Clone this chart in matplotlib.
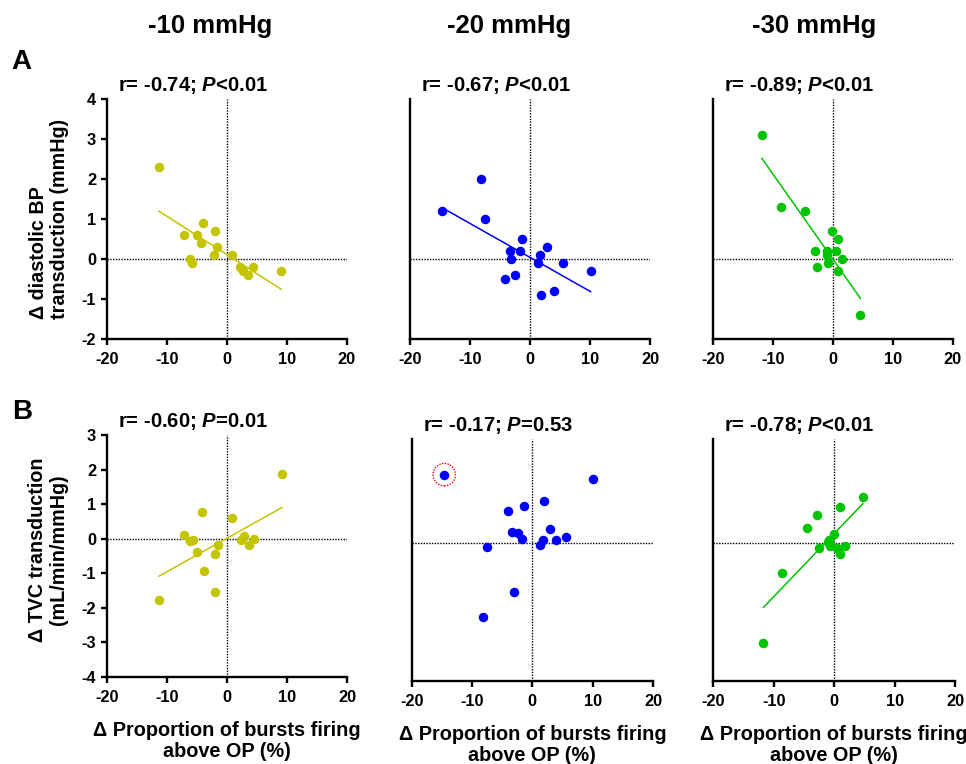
import numpy as np
import matplotlib.pyplot as plt

plt.rcParams['font.family'] = ['Liberation Sans', 'DejaVu Sans']
plt.rcParams['font.weight'] = 'bold'
plt.rcParams['axes.unicode_minus'] = False
plt.rcParams['mathtext.fontset'] = 'custom'
plt.rcParams['mathtext.it'] = 'Liberation Sans:bold:italic'
plt.rcParams['mathtext.rm'] = 'Liberation Sans:bold'

# change in proportion of bursts above OP (%) vs. transduction, per pressure level
x_dbp_10 = [-11.3, -7.2, -3.9, -5.0, -4.3, -1.9, -1.6, -2.1, -6.2, -5.8, 0.8, 2.2, 2.7, 3.5, 4.4, 9.1]
y_dbp_10 = [2.3, 0.6, 0.9, 0.6, 0.4, 0.7, 0.3, 0.1, 0.0, -0.1, 0.1, -0.2, -0.3, -0.4, -0.2, -0.3]

x_dbp_20 = [-14.6, -8.2, -7.5, -1.4, -3.3, -1.7, -3.1, 2.9, 1.6, 1.3, 5.5, 10.1, -2.5, -4.2, 1.9, 4.0]
y_dbp_20 = [1.2, 2.0, 1.0, 0.5, 0.2, 0.2, 0.0, 0.3, 0.1, -0.1, -0.1, -0.3, -0.4, -0.5, -0.9, -0.8]

x_dbp_30 = [-11.8, -8.7, -4.6, -0.1, 0.8, -3.0, -1.0, 0.5, -1.0, 1.6, -0.8, -2.7, 0.9, 4.6]
y_dbp_30 = [3.1, 1.3, 1.2, 0.7, 0.5, 0.2, 0.2, 0.2, 0.1, 0.0, -0.1, -0.2, -0.3, -1.4]

x_tvc_10 = [-11.3, -7.2, -6.1, -5.7, -4.2, -4.9, -3.8, -1.9, -1.5, -1.9, 0.8, 2.4, 2.9, 3.7, 4.6, 9.2]
y_tvc_10 = [-1.77, 0.1, -0.07, -0.05, 0.76, -0.39, -0.93, -0.43, -0.19, -1.54, 0.6, -0.05, 0.09, -0.18, -0.02, 1.86]

x_tvc_20 = [-14.6, 10.1, -4.1, -1.4, 1.9, -3.4, -2.4, -1.7, 2.9, 1.7, 1.3, 4.0, 5.5, -7.5, -3.1, -8.2]
y_tvc_20 = [1.97, 1.83, 0.93, 1.07, 1.21, 0.30, 0.27, 0.10, 0.40, 0.07, -0.07, 0.07, 0.17, -0.13, -1.42, -2.16]

x_tvc_30 = [4.75, 0.94, -2.9, -4.5, 0.05, -0.9, -1.0, -0.7, -2.5, 0.55, 1.8, 1.05, -8.6, -11.7]
y_tvc_30 = [1.32, 1.04, 0.79, 0.44, 0.25, 0.09, 0.02, -0.10, -0.14, -0.15, -0.09, -0.33, -0.87, -2.90]

stats = ['r= -0.74; $P$<0.01', 'r= -0.67; $P$<0.01', 'r= -0.89; $P$<0.01',
         'r= -0.60; $P$=0.01', 'r= -0.17; $P$=0.53', 'r= -0.78; $P$<0.01']
titles = ['-10 mmHg', '-20 mmHg', '-30 mmHg']
colors = ['#C4C400', '#0000F5', '#00C400']
x_ticks = [-20, -10, 0, 10, 20]
dbp_ticks = [-2, -1, 0, 1, 2, 3, 4]
tvc_ticks = [-4, -3, -2, -1, 0, 1, 2, 3]
outlier = (-14.6, 1.97)

W, H = 966, 764
fig = plt.figure(figsize=(W / 100, H / 100), dpi=100)


def px_axes(left, right, top, bottom):
    return fig.add_axes([left / W, 1 - bottom / H, (right - left) / W, (bottom - top) / H])


# axes boxes in pixels: left, right, top, bottom
boxes = [(106.7, 346.7, 99.3, 339.3), (410, 650, 99.3, 339.3), (712.7, 952.7, 99.3, 339.3),
         (106.7, 347, 435, 677), (411.7, 653, 439, 681), (713.3, 955, 439, 681)]
xs = [x_dbp_10, x_dbp_20, x_dbp_30, x_tvc_10, x_tvc_20, x_tvc_30]
ys = [y_dbp_10, y_dbp_20, y_dbp_30, y_tvc_10, y_tvc_20, y_tvc_30]

for i in range(6):
    row, col = divmod(i, 3)
    ax = px_axes(*boxes[i])
    x = np.array(xs[i])
    y = np.array(ys[i])
    ax.axhline(0, color='k', ls=(0, (1, 1)), lw=1)
    ax.axvline(0, color='k', ls=(0, (1, 1)), lw=1)
    ax.scatter(x, y, s=34, color=colors[col], zorder=3, clip_on=False)
    # linear fit, except the non-significant panel
    if i != 4:
        k, b = np.polyfit(x, y, 1)
        xx = np.array([x.min(), x.max()])
        ax.plot(xx, k * xx + b, color=colors[col], lw=1.1, zorder=2)
    else:
        ax.scatter([outlier[0]], [outlier[1]], s=260, facecolors='none', edgecolors='red',
                   linestyle=(0, (1, 1)), linewidths=1, zorder=4)

    ax.set_xlim(-20, 20)
    if row == 0:
        ax.set_ylim(-2, 4)
        ax.set_yticks(dbp_ticks)
    else:
        ax.set_ylim(-4, 3)
        ax.set_yticks(tvc_ticks)
    ax.set_xticks(x_ticks)
    for s in ['top', 'right']:
        ax.spines[s].set_visible(False)
    for s in ['left', 'bottom']:
        ax.spines[s].set_linewidth(1.7)
    ax.tick_params(width=1.7, length=4.5, labelsize=11.8)
    ax.tick_params(axis='x', pad=4.5)
    ax.tick_params(axis='y', pad=3)
    if col > 0:
        ax.tick_params(axis='y', left=False, labelleft=False)
    for lab in ax.get_xticklabels() + ax.get_yticklabels():
        lab.set_fontweight('bold')

    ax.text(0.045, 1.033, stats[i], transform=ax.transAxes, fontsize=14.6,
            fontweight='bold', ha='left', va='baseline')

    if row == 1:
        ax.text(0.5, -0.264, '\u0394 Proportion of bursts firing\nabove OP (%)',
                transform=ax.transAxes, ha='center', va='center', fontsize=14.3,
                fontweight='bold', linespacing=1.1)

for t, cx in zip(titles, [210, 509, 814]):
    fig.text(cx / W, 1 - 33 / H, t, ha='center', va='baseline', fontsize=18.5, fontweight='bold')

fig.text(21 / W, 1 - 62 / H, 'A', ha='center', va='center', fontsize=20, fontweight='bold')
fig.text(22 / W, 1 - 412 / H, 'B', ha='center', va='center', fontsize=20, fontweight='bold')

fig.text(49 / W, 1 - 219 / H, '\u0394 diastolic BP\ntransduction (mmHg)', rotation=90,
         ha='center', va='center', multialignment='left', fontsize=14.2, fontweight='bold',
         linespacing=1.1)
fig.text(48 / W, 1 - 550 / H, '\u0394 TVC transduction\n(mL/min/mmHg)', rotation=90,
         ha='center', va='center', multialignment='center', fontsize=14.2, fontweight='bold',
         linespacing=1.1)

fig.savefig('out.png', dpi=100)
